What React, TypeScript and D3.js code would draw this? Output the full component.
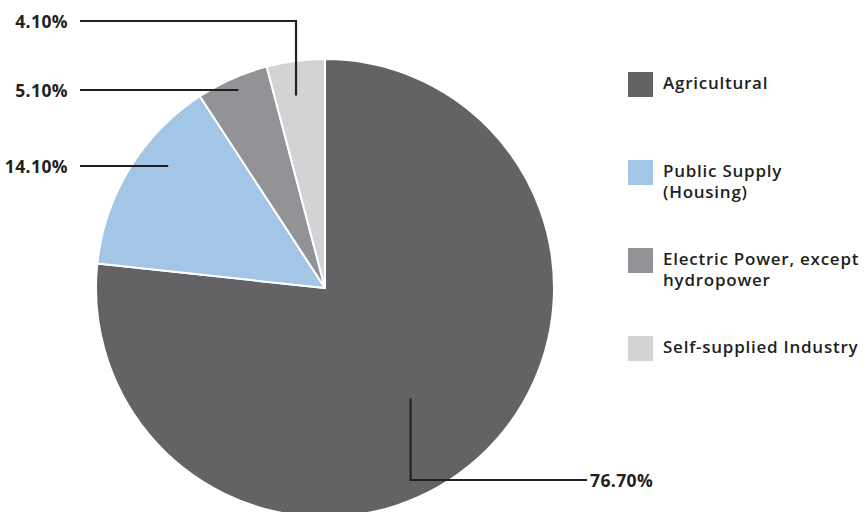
import React from "react";
import * as d3 from "d3";

const categories = ["Agricultural", "Public Supply (Housing)", "Electric Power, except hydropower", "Self-supplied Industry"];
const legendLines = [["Agricultural"], ["Public Supply", "(Housing)"], ["Electric Power, except", "hydropower"], ["Self-supplied Industry"]];
const values = [76.7, 14.1, 5.1, 4.1];
const valueLabels = ["76.70%", "14.10%", "5.10%", "4.10%"];
const colors = ["#636265", "#a3c5e6", "#929397", "#d2d3d5"];

// leader config: polar anchor (fraction of slice span, fraction of radius), label y, label side
const leaders = [
  { t: 0.515, rf: 0.61, labelY: 480, side: "right", labelX: 587 },
  { t: 0.63, rf: 0.87, labelY: 166, side: "left", labelX: 80 },
  { t: 0.51, rf: 0.94, labelY: 90, side: "left", labelX: 80 },
  { t: 0.42, rf: 0.85, labelY: 21, side: "left", labelX: 80 },
];

export default function App() {
  const W = 867, H = 512;
  const cx = 325, cy = 288, R = 229;
  const pie = d3.pie<number>().sort(null).value((d) => d);
  const arcs = pie(values);
  const arc = d3.arc<d3.PieArcDatum<number>>().innerRadius(0).outerRadius(R);
  const font = "'Open Sans', sans-serif";
  const ink = "#231f20";

  return (
    <svg width={W} height={H} style={{ position: "absolute", left: 0, top: 0 }}>
      <rect width={W} height={H} fill="#fff" />
      <g transform={`translate(${cx},${cy})`}>
        {arcs.map((a, i) => (
          <path key={i} d={arc(a) || ""} fill={colors[i]} stroke="#fff" strokeWidth={2} strokeLinejoin="round" />
        ))}
      </g>
      {arcs.map((a, i) => {
        const L = leaders[i];
        const ang = a.startAngle + (a.endAngle - a.startAngle) * L.t;
        const px = cx + Math.sin(ang) * R * L.rf;
        const py = cy - Math.cos(ang) * R * L.rf;
        let d: string;
        if (Math.abs(py - L.labelY) < 1) d = `M${L.labelX},${L.labelY}H${px}`;
        else d = `M${L.labelX},${L.labelY}H${px}V${py}`;
        return (
          <g key={i}>
            <path d={d} fill="none" stroke={ink} strokeWidth={2.2} />
            <text
              x={L.side === "left" ? L.labelX - 12 : L.labelX + 3}
              y={L.labelY + 6.5}
              textAnchor={L.side === "left" ? "end" : "start"}
              fontFamily={font}
              fontWeight={700}
              fontSize={17.5}
              letterSpacing={0.4}
              fill={ink}
            >
              {valueLabels[i]}
            </text>
          </g>
        );
      })}
      {categories.map((c, i) => {
        const y0 = 72 + i * 88;
        return (
          <g key={c}>
            <rect x={628} y={y0} width={25} height={25} fill={colors[i]} />
            {legendLines[i].map((ln, j) => (
              <text
                key={j}
                x={663}
                y={y0 + 17 + j * 21}
                fontFamily={font}
                fontWeight={600}
                fontSize={17}
                letterSpacing={0.75}
                fill={ink}
              >
                {ln}
              </text>
            ))}
          </g>
        );
      })}
    </svg>
  );
}
